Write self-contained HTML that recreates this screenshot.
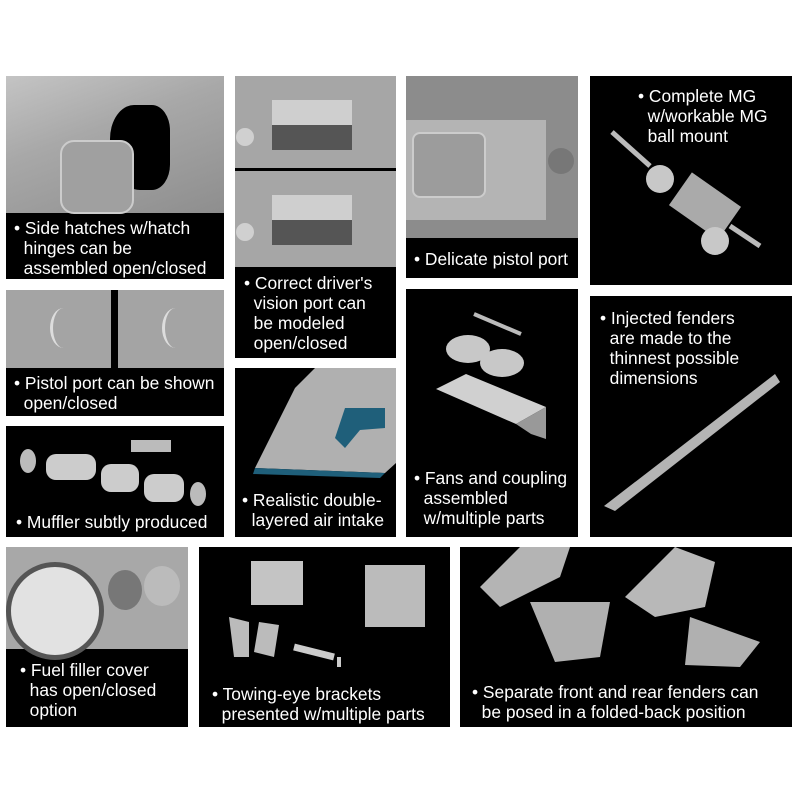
<!DOCTYPE html>
<html><head><meta charset="utf-8"><style>
body{margin:0;width:800px;height:800px;background:#fff;position:relative;overflow:hidden;font-family:"Liberation Sans",Arial,sans-serif}
.p{position:absolute;background:#000}
.g{position:absolute;background:#9a9a9a}
.t{position:absolute;color:#fff;font-size:17.4px;line-height:20px;white-space:nowrap}
.s{position:absolute;background:#c8c8c8}
.d{position:absolute;border-radius:50%;background:#d0d0d0}
</style></head><body>
<!-- A -->
<div class="p" style="left:6px;top:76px;width:218px;height:203px"></div>
<div class="g" style="left:6px;top:76px;width:218px;height:137px;background:linear-gradient(160deg,#c4c4c4 0%,#a8a8a8 40%,#8e8e8e 100%)"></div>
<div style="position:absolute;left:110px;top:105px;width:60px;height:85px;background:#000;border-radius:40% 30% 30% 50%"></div>
<div class="s" style="left:60px;top:140px;width:70px;height:70px;background:#a0a0a0;border:2px solid #ccc;border-radius:14px"></div>
<div class="t" style="left:14px;top:218px">• Side hatches w/hatch<br>&nbsp;&nbsp;hinges can be<br>&nbsp;&nbsp;assembled open/closed</div>
<!-- B -->
<div class="p" style="left:235px;top:76px;width:161px;height:282px"></div>
<div class="g" style="left:235px;top:76px;width:161px;height:92px;background:#a6a6a6"></div>
<div class="s" style="left:272px;top:100px;width:80px;height:50px;background:linear-gradient(#cfcfcf 50%,#555 50%)"></div>
<div class="d" style="left:236px;top:128px;width:18px;height:18px"></div>
<div class="g" style="left:235px;top:171px;width:161px;height:96px;background:#a6a6a6"></div>
<div class="s" style="left:272px;top:195px;width:80px;height:50px;background:linear-gradient(#cfcfcf 50%,#555 50%)"></div>
<div class="d" style="left:236px;top:223px;width:18px;height:18px"></div>
<div class="t" style="left:244px;top:273px">• Correct driver's<br>&nbsp;&nbsp;vision port can<br>&nbsp;&nbsp;be modeled<br>&nbsp;&nbsp;open/closed</div>
<!-- C -->
<div class="p" style="left:406px;top:76px;width:172px;height:202px"></div>
<div class="g" style="left:406px;top:76px;width:172px;height:162px;background:#8c8c8c"></div>
<div class="s" style="left:406px;top:120px;width:140px;height:100px;background:#b4b4b4"></div>
<div class="s" style="left:412px;top:132px;width:70px;height:62px;background:#9c9c9c;border:2px solid #ccc;border-radius:8px"></div>
<div class="d" style="left:548px;top:148px;width:26px;height:26px;background:#777"></div>
<div class="t" style="left:414px;top:249px">• Delicate pistol port</div>
<!-- D -->
<div class="p" style="left:590px;top:76px;width:202px;height:209px"></div>
<svg style="position:absolute;left:590px;top:76px" width="202" height="209"><line x1="22" y1="56" x2="60" y2="90" stroke="#bbb" stroke-width="5"/><circle cx="70" cy="103" r="14" fill="#c8c8c8"/><rect x="85" y="110" width="60" height="40" fill="#aaa" transform="rotate(35 115 130)"/><circle cx="125" cy="165" r="14" fill="#c8c8c8"/><line x1="140" y1="150" x2="170" y2="170" stroke="#bbb" stroke-width="5"/></svg>
<div class="t" style="left:638px;top:86px">• Complete MG<br>&nbsp;&nbsp;w/workable MG<br>&nbsp;&nbsp;ball mount</div>
<!-- E -->
<div class="p" style="left:6px;top:290px;width:218px;height:126px"></div>
<div class="g" style="left:6px;top:290px;width:105px;height:78px;background:#a4a4a4"></div>
<div class="g" style="left:118px;top:290px;width:106px;height:78px;background:#a4a4a4"></div>
<div style="position:absolute;left:50px;top:308px;width:24px;height:40px;border-left:3px solid #ddd;border-radius:50%"></div>
<div style="position:absolute;left:162px;top:308px;width:24px;height:40px;border-left:3px solid #ddd;border-radius:50%"></div>
<div class="t" style="left:14px;top:373px">• Pistol port can be shown<br>&nbsp;&nbsp;open/closed</div>
<!-- I -->
<div class="p" style="left:6px;top:426px;width:218px;height:111px"></div>
<svg style="position:absolute;left:6px;top:426px" width="218" height="80"><rect x="40" y="28" width="50" height="26" rx="10" fill="#ccc"/><rect x="95" y="38" width="38" height="28" rx="10" fill="#ccc"/><rect x="138" y="48" width="40" height="28" rx="10" fill="#ccc"/><rect x="125" y="14" width="40" height="12" fill="#bbb"/><ellipse cx="22" cy="35" rx="8" ry="12" fill="#bbb"/><ellipse cx="192" cy="68" rx="8" ry="12" fill="#bbb"/></svg>
<div class="t" style="left:16px;top:512px">• Muffler subtly produced</div>
<!-- F -->
<div class="p" style="left:235px;top:368px;width:161px;height:169px"></div>
<svg style="position:absolute;left:235px;top:368px" width="161" height="110"><polygon points="80,0 161,0 161,95 150,105 20,100 60,20" fill="#b0b0b0"/><polygon points="20,100 150,105 145,110 18,106" fill="#1f5f7a"/><polygon points="110,40 150,40 150,60 125,62 110,80 100,70" fill="#1f5f7a"/></svg>
<div class="t" style="left:242px;top:490px">• Realistic double-<br>&nbsp;&nbsp;layered air intake</div>
<!-- G -->
<div class="p" style="left:406px;top:289px;width:172px;height:248px"></div>
<svg style="position:absolute;left:406px;top:289px" width="172" height="160"><line x1="68" y1="25" x2="115" y2="45" stroke="#bbb" stroke-width="4"/><ellipse cx="62" cy="60" rx="22" ry="14" fill="#c8c8c8"/><ellipse cx="96" cy="74" rx="22" ry="14" fill="#c8c8c8"/><polygon points="30,100 60,85 140,118 110,135" fill="#d0d0d0"/><polygon points="110,135 140,118 140,150 125,145" fill="#999"/></svg>
<div class="t" style="left:414px;top:468px">• Fans and coupling<br>&nbsp;&nbsp;assembled<br>&nbsp;&nbsp;w/multiple parts</div>
<!-- H -->
<div class="p" style="left:590px;top:296px;width:202px;height:241px"></div>
<svg style="position:absolute;left:590px;top:296px" width="202" height="241"><polygon points="185,78 190,86 25,215 14,210" fill="#b4b4b4"/></svg>
<div class="t" style="left:600px;top:308px">• Injected fenders<br>&nbsp;&nbsp;are made to the<br>&nbsp;&nbsp;thinnest possible<br>&nbsp;&nbsp;dimensions</div>
<!-- J -->
<div class="p" style="left:6px;top:547px;width:182px;height:180px"></div>
<div class="g" style="left:6px;top:547px;width:182px;height:102px;background:#a8a8a8"></div>
<div class="d" style="left:6px;top:562px;width:88px;height:88px;background:#e2e2e2;border:5px solid #555"></div>
<div class="d" style="left:108px;top:570px;width:34px;height:40px;background:#777"></div>
<div class="d" style="left:144px;top:566px;width:36px;height:40px;background:#bbb"></div>
<div class="t" style="left:20px;top:660px">• Fuel filler cover<br>&nbsp;&nbsp;has open/closed<br>&nbsp;&nbsp;option</div>
<!-- K -->
<div class="p" style="left:199px;top:547px;width:251px;height:180px"></div>
<svg style="position:absolute;left:199px;top:547px" width="251" height="120"><rect x="52" y="14" width="52" height="44" fill="#c4c4c4"/><rect x="166" y="18" width="60" height="62" fill="#bbb"/><polygon points="30,70 50,75 50,110 35,110" fill="#bbb"/><polygon points="60,75 80,78 75,110 55,105" fill="#bbb"/><line x1="95" y1="100" x2="135" y2="110" stroke="#ccc" stroke-width="7"/><line x1="140" y1="110" x2="140" y2="135" stroke="#ccc" stroke-width="4"/></svg>
<div class="t" style="left:212px;top:684px">• Towing-eye brackets<br>&nbsp;&nbsp;presented w/multiple parts</div>
<!-- L -->
<div class="p" style="left:460px;top:547px;width:332px;height:180px"></div>
<svg style="position:absolute;left:460px;top:547px" width="332" height="130"><polygon points="20,40 60,0 110,0 100,30 40,60" fill="#b4b4b4"/><polygon points="70,55 150,55 140,110 95,115" fill="#b0b0b0"/><polygon points="165,50 215,0 255,15 245,60 195,70" fill="#b8b8b8"/><polygon points="230,70 300,95 280,120 225,118" fill="#b0b0b0"/></svg>
<div class="t" style="left:472px;top:682px">• Separate front and rear fenders can<br>&nbsp;&nbsp;be posed in a folded-back position</div>
</body></html>
